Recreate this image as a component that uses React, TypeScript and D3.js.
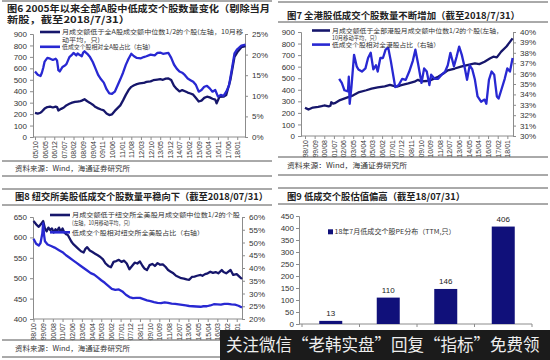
import React, { useEffect, useRef } from 'react';
import * as d3 from 'd3';

const DARK = '#16166b';
const BLUE = '#2828d2';
const BAR = '#10107a';
const CJK = '"Noto Sans CJK SC", "Liberation Sans", sans-serif';
const NUM = '"Liberation Sans", Arial, sans-serif';

type Pt = [string, number];

// ---- 图6: all A shares ----
const aTicks = ['05/10', '06/05', '06/12', '07/07', '08/02', '08/09', '09/04', '09/11', '10/06', '11/01', '11/08',
  '12/03', '12/10', '13/05', '13/12', '14/07', '15/02', '15/09', '16/04', '16/11', '17/06', '18/01'];
const aCount: Pt[] = [
  ['05/10', 211], ['05/12', 205], ['06/02', 212], ['06/03', 222], ['06/05', 248], ['06/07', 262], ['06/09', 266],
  ['06/11', 258], ['07/01', 266], ['07/02', 262], ['07/03', 232], ['07/05', 246], ['07/07', 258], ['07/09', 278],
  ['07/11', 290], ['08/01', 300], ['08/03', 306], ['08/05', 310], ['08/07', 314], ['08/08', 318], ['08/10', 330],
  ['08/12', 312], ['09/02', 298], ['09/04', 282], ['09/06', 262], ['09/08', 250], ['09/10', 240], ['09/12', 232],
  ['10/02', 206], ['10/04', 192], ['10/06', 198], ['10/08', 228], ['10/10', 252], ['10/12', 276], ['11/02', 320],
  ['11/04', 368], ['11/06', 410], ['11/08', 438], ['11/10', 452], ['11/12', 462], ['12/02', 468], ['12/05', 472],
  ['12/07', 482], ['12/10', 486], ['12/12', 496], ['13/03', 502], ['13/05', 506], ['13/07', 500], ['13/09', 510],
  ['13/11', 512], ['14/01', 498], ['14/03', 448], ['14/05', 420], ['14/07', 398], ['14/09', 410], ['14/11', 400],
  ['15/01', 388], ['15/03', 380], ['15/05', 370], ['15/07', 340], ['15/09', 310], ['15/11', 318], ['16/01', 342],
  ['16/03', 352], ['16/05', 346], ['16/07', 334], ['16/09', 326], ['16/10', 294], ['16/12', 350], ['17/03', 352],
  ['17/05', 367], ['17/08', 498], ['17/11', 700], ['18/01', 740], ['18/04', 785], ['18/07', 795],
];
const aRatio: Pt[] = [
  ['05/10', 15.9], ['05/12', 15.1], ['06/02', 14.8], ['06/03', 15.6], ['06/04', 16.8], ['06/05', 18.3], ['06/07', 19.2],
  ['06/09', 19.0], ['06/11', 18.7], ['07/01', 19.0], ['07/02', 18.6], ['07/03', 16.2], ['07/04', 15.9], ['07/06', 17.0],
  ['07/08', 17.4], ['07/09', 17.8], ['07/11', 19.4], ['08/01', 20.0], ['08/02', 20.4], ['08/04', 19.8], ['08/05', 20.3],
  ['08/06', 20.0], ['08/08', 19.6], ['08/09', 20.5], ['08/10', 20.8], ['08/12', 20.2], ['09/02', 19.4], ['09/04', 18.2],
  ['09/06', 16.6], ['09/08', 15.0], ['09/10', 14.0], ['09/12', 13.2], ['10/02', 11.6], ['10/04', 10.6], ['10/06', 10.5],
  ['10/08', 11.0], ['10/10', 12.5], ['10/12', 14.0], ['11/02', 15.6], ['11/04', 17.5], ['11/06', 19.0], ['11/08', 20.2],
  ['11/10', 19.6], ['11/12', 19.2], ['12/03', 19.1], ['12/05', 19.4], ['12/07', 19.6], ['12/10', 20.0], ['13/01', 19.8],
  ['13/03', 20.4], ['13/05', 20.5], ['13/07', 20.2], ['13/09', 20.3], ['13/11', 20.4], ['14/01', 19.2], ['14/03', 17.6],
  ['14/05', 16.6], ['14/07', 15.9], ['14/09', 15.6], ['14/11', 15.0], ['15/01', 14.2], ['15/03', 13.8], ['15/05', 13.4],
  ['15/07', 12.6], ['15/09', 11.0], ['15/11', 11.4], ['16/01', 12.2], ['16/03', 12.4], ['16/05', 11.8], ['16/07', 11.0],
  ['16/09', 11.4], ['16/11', 9.8], ['17/01', 10.2], ['17/03', 10.0], ['17/05', 11.0], ['17/07', 12.5], ['17/09', 16.3],
  ['17/11', 20.3], ['18/01', 21.3], ['18/04', 22.2], ['18/07', 22.4],
];

// ---- 图7: Hong Kong ----
const hkTicks = ['98/10', '99/09', '00/08', '01/07', '02/06', '03/05', '04/04', '05/03', '06/02', '07/01', '07/12',
  '08/11', '09/10', '10/09', '11/08', '12/07', '13/06', '14/05', '15/04', '16/03', '17/02', '18/01'];
const hkCount: Pt[] = [
  ['98/10', 245], ['99/02', 229], ['99/07', 246], ['00/01', 252], ['00/05', 258], ['00/08', 264], ['01/01', 256],
  ['01/03', 262], ['01/04', 292], ['01/06', 280], ['01/08', 284], ['02/02', 311], ['02/09', 330], ['03/05', 352],
  ['03/12', 380], ['04/08', 396], ['05/02', 410], ['05/09', 420], ['06/05', 430], ['06/11', 442], ['07/03', 434],
  ['07/07', 428], ['07/12', 440], ['08/08', 455], ['09/03', 470], ['09/07', 486], ['09/11', 472], ['10/05', 476],
  ['10/10', 486], ['11/06', 512], ['11/12', 540], ['12/05', 568], ['13/01', 584], ['13/08', 600], ['14/02', 612],
  ['14/08', 622], ['14/12', 628], ['15/05', 622], ['15/11', 642], ['16/05', 670], ['16/09', 686], ['17/01', 680],
  ['17/06', 730], ['17/12', 775], ['18/04', 815], ['18/07', 845],
];
const hkRatio: Pt[] = [
  ['02/01', 35.5], ['02/04', 35.1], ['02/07', 34.4], ['02/11', 34.3], ['02/12', 35.7], ['03/01', 33.1], ['03/03', 34.7],
  ['03/06', 37.8], ['03/09', 36.7], ['03/11', 36.4], ['04/03', 36.2], ['04/07', 36.5], ['04/10', 37.5], ['05/01', 38.0],
  ['05/04', 36.4], ['05/07', 36.8], ['05/09', 36.2], ['05/12', 37.5], ['06/03', 37.5], ['06/06', 38.3], ['06/09', 38.5],
  ['06/12', 37.2], ['07/03', 35.7], ['07/05', 34.7], ['07/09', 34.9], ['08/01', 35.5], ['08/05', 35.4], ['08/09', 36.2],
  ['09/01', 37.2], ['09/04', 38.3], ['09/07', 37.0], ['09/11', 35.1], ['10/02', 36.5], ['10/05', 36.2], ['10/08', 34.9],
  ['10/10', 35.9], ['11/02', 35.5], ['11/06', 35.5], ['11/10', 35.9], ['12/02', 36.2], ['12/05', 36.8], ['12/08', 38.0],
  ['12/12', 36.7], ['13/03', 37.6], ['13/06', 38.6], ['13/09', 37.8], ['13/12', 36.7], ['14/03', 35.4], ['14/06', 36.8],
  ['14/09', 36.4], ['14/12', 35.4], ['15/03', 33.8], ['15/07', 33.3], ['15/11', 33.5], ['16/01', 33.1], ['16/04', 35.4],
  ['16/07', 36.2], ['16/10', 35.9], ['17/01', 33.8], ['17/03', 33.6], ['17/06', 34.4], ['17/10', 35.5], ['18/01', 36.5],
  ['18/04', 36.2], ['18/07', 37.5],
];

// ---- 图8: NYSE ----
const nyTicks = hkTicks;
const nyCount: Pt[] = [
  ['98/10', 640], ['99/01', 632], ['99/04', 626], ['99/07', 634], ['99/09', 640], ['99/11', 622], ['00/01', 615],
  ['00/03', 624], ['00/05', 618], ['00/07', 622], ['00/09', 612], ['00/11', 620], ['01/01', 616], ['01/03', 624],
  ['01/05', 614], ['01/07', 622], ['01/09', 612], ['01/11', 608], ['02/01', 606], ['02/03', 598], ['02/05', 590],
  ['02/07', 584], ['02/10', 578], ['03/01', 572], ['03/04', 566], ['03/07', 563], ['03/09', 572], ['03/11', 576],
  ['04/02', 568], ['04/05', 564], ['04/08', 560], ['04/11', 556], ['05/02', 552], ['05/05', 546], ['05/08', 536],
  ['05/11', 530], ['06/02', 527], ['06/05', 540], ['06/08', 542], ['06/11', 545], ['07/02', 540], ['07/05', 543],
  ['07/08', 536], ['07/11', 522], ['08/02', 530], ['08/05', 538], ['08/08', 536], ['08/11', 541], ['09/02', 530],
  ['09/04', 524], ['09/07', 520], ['09/10', 532], ['10/01', 535], ['10/04', 530], ['10/07', 537], ['10/10', 533],
  ['11/01', 534], ['11/04', 528], ['11/07', 520], ['11/10', 516], ['12/01', 512], ['12/04', 506], ['12/07', 503],
  ['12/10', 500], ['13/01', 499], ['13/04', 497], ['13/07', 496], ['13/10', 503], ['14/01', 504], ['14/04', 506],
  ['14/08', 508], ['14/10', 506], ['15/01', 510], ['15/04', 512], ['15/07', 516], ['15/10', 513], ['16/01', 515],
  ['16/04', 512], ['16/08', 520], ['16/10', 515], ['17/01', 512], ['17/06', 520], ['17/09', 508], ['18/01', 510],
  ['18/04', 504], ['18/07', 498],
];
const nyRatio: Pt[] = [
  ['98/10', 51.5], ['99/01', 49.5], ['99/04', 48.8], ['99/06', 49.8], ['99/08', 53.5], ['99/09', 57.5], ['99/10', 53.0],
  ['99/11', 50.5], ['00/02', 49.2], ['00/06', 48.6], ['00/10', 48.0], ['01/03', 47.0], ['01/07', 46.2], ['01/11', 45.0],
  ['02/03', 44.0], ['02/07', 43.0], ['02/11', 42.0], ['03/03', 41.0], ['03/07', 40.0], ['03/11', 39.0], ['04/03', 38.0],
  ['04/07', 37.4], ['04/11', 36.3], ['05/03', 35.2], ['05/07', 34.2], ['05/11', 33.0], ['06/03', 31.8], ['06/07', 31.4],
  ['06/11', 31.6], ['07/03', 30.8], ['07/07', 29.5], ['07/11', 28.6], ['08/03', 28.2], ['08/07', 28.3], ['08/11', 28.3],
  ['09/03', 27.8], ['09/07', 27.3], ['09/11', 27.0], ['10/03', 26.6], ['10/07', 26.3], ['10/11', 26.2], ['11/03', 26.5],
  ['11/07', 26.3], ['11/11', 26.0], ['12/03', 25.9], ['12/07', 25.7], ['12/11', 25.5], ['13/03', 25.3], ['13/07', 25.1],
  ['13/11', 25.0], ['14/03', 24.9], ['14/08', 24.8], ['14/11', 25.0], ['15/03', 25.0], ['15/07', 25.3], ['15/11', 25.8],
  ['16/03', 25.7], ['16/07', 25.6], ['16/11', 25.9], ['17/03', 25.9], ['17/07', 25.7], ['17/11', 25.6], ['18/03', 25.2],
  ['18/07', 24.5],
];

// ---- 图9: PE distribution ----
const peCats = ['<0', '0-30', '30-100', '>100'];
const peCounts = [13, 110, 146, 406];

const toMonth = (s: string) => {
  const [y, m] = s.split('/').map(Number);
  return (y > 50 ? 1900 + y : 2000 + y) * 12 + m - 1;
};

const text = (g: any, x: number, y: number, str: string, size: number, opts: any = {}) => {
  const t = g.append('text')
    .attr('x', x).attr('y', y)
    .attr('font-family', opts.family || CJK)
    .attr('font-size', size)
    .attr('font-weight', opts.bold ? 700 : 400)
    .attr('fill', opts.fill || '#222')
    .text(str);
  if (opts.len) t.attr('textLength', opts.len).attr('lengthAdjust', 'spacingAndGlyphs');
  if (opts.anchor) t.attr('text-anchor', opts.anchor);
  return t;
};

const rule = (g: any, x1: number, x2: number, y: number) => {
  g.append('line').attr('x1', x1).attr('x2', x2).attr('y1', y).attr('y2', y)
    .attr('stroke', '#555').attr('stroke-width', 1);
};

const styleAxis = (ax: any) => {
  ax.attr('font-family', NUM).attr('font-size', 8);
  ax.selectAll('.domain').attr('stroke', '#8c8c8c');
  ax.selectAll('.tick line').attr('stroke', '#8c8c8c');
  ax.selectAll('.tick text').attr('fill', '#333');
};

const drawDual = (svg: any, c: any) => {
  const x = d3.scaleLinear().domain([toMonth(c.start), toMonth(c.end)]).range([c.x0, c.x1]);
  const yL = d3.scaleLinear().domain(c.leftDomain).range([c.bottom, c.top]);
  const yR = d3.scaleLinear().domain(c.rightDomain).range([c.bottom, c.top]);

  const gl = svg.append('g').attr('transform', `translate(${c.axisL},0)`)
    .call(d3.axisLeft(yL).tickValues(c.leftTicks).tickSize(3).tickPadding(3).tickFormat(d3.format('d')));
  styleAxis(gl);

  const gr = svg.append('g').attr('transform', `translate(${c.axisR},0)`)
    .call(d3.axisRight(yR).tickValues(c.rightTicks).tickSize(3).tickPadding(4).tickFormat((d: any) => `${d}%`));
  styleAxis(gr);

  const gx = svg.append('g').attr('transform', `translate(0,${c.bottom})`)
    .call(d3.axisBottom(x).tickValues(c.ticks.map(toMonth)).tickSize(3).tickFormat((_: any, i: number) => c.ticks[i]));
  styleAxis(gx);
  gx.select('.domain').remove();
  gx.selectAll('.tick text')
    .attr('transform', 'rotate(-90)')
    .attr('text-anchor', 'end')
    .attr('x', -4).attr('y', 0).attr('dy', '0.35em')
    .attr('font-size', 7);
  svg.append('line').attr('x1', c.axisL).attr('x2', c.axisR).attr('y1', c.bottom).attr('y2', c.bottom)
    .attr('stroke', '#8c8c8c');

  const lineL = d3.line<Pt>().x(d => x(toMonth(d[0]))).y(d => yL(d[1]));
  const lineR = d3.line<Pt>().x(d => x(toMonth(d[0]))).y(d => yR(d[1]));
  svg.append('path').attr('d', lineL(c.count)).attr('fill', 'none')
    .attr('stroke', DARK).attr('stroke-width', 2.3).attr('stroke-linejoin', 'round');
  svg.append('path').attr('d', lineR(c.ratio)).attr('fill', 'none')
    .attr('stroke', BLUE).attr('stroke-width', 2.3).attr('stroke-linejoin', 'round');

  // legend
  const lg = c.legend;
  svg.append('line').attr('x1', lg.x).attr('x2', lg.x + lg.w).attr('y1', lg.y1).attr('y2', lg.y1)
    .attr('stroke', DARK).attr('stroke-width', 2.6);
  svg.append('line').attr('x1', lg.x).attr('x2', lg.x + lg.w).attr('y1', lg.y2).attr('y2', lg.y2)
    .attr('stroke', BLUE).attr('stroke-width', 2.6);
  lg.lines.forEach((l: any) => text(svg, lg.x + lg.w + 2, l.y + 2.2, l.s, 6.1, { len: l.len, fill: '#333' }));
};

const App = () => {
  const ref = useRef<SVGSVGElement>(null);

  useEffect(() => {
    const svg = d3.select(ref.current);
    svg.selectAll('*').remove();
    svg.append('rect').attr('width', 550).attr('height', 360).attr('fill', '#fff');

    // ----- 图6 -----
    rule(svg, 2, 272, 1);
    text(svg, 7, 12, '图6  2005年以来全部A股中低成交个股数量变化（剔除当月', 9.5, { bold: true, len: 263 });
    text(svg, 7, 23, '新股，截至2018/7/31）', 9.5, { bold: true, len: 123 });
    drawDual(svg, {
      start: '05/10', end: '18/07', x0: 35, x1: 245.5, axisL: 33, axisR: 245, top: 34, bottom: 137,
      leftDomain: [0, 900], leftTicks: d3.range(0, 901, 100), rightDomain: [0, 25], rightTicks: d3.range(0, 26, 5),
      ticks: aTicks, count: aCount, ratio: aRatio,
      legend: {
        x: 40, w: 20, y1: 32, y2: 46.8, lines: [
          { s: '月成交额低于全A股成交额中位数1/2的个股(左轴，10月移', y: 32, len: 181 },
          { s: '动平均，只)', y: 39.4, len: 38 },
          { s: '低成交个股相对全A股占比（右轴）', y: 46.8, len: 92 },
        ],
      },
    });
    rule(svg, 2, 272, 161);
    text(svg, 15, 171, '资料来源：Wind，海通证券研究所', 7, { len: 115, fill: '#333' });
    rule(svg, 2, 272, 176);

    // ----- 图7 -----
    rule(svg, 278, 548, 2);
    text(svg, 287, 18.5, '图7  全港股低成交个股数量不断增加（截至2018/7/31）', 9.5, { bold: true, len: 233 });
    rule(svg, 278, 548, 22);
    drawDual(svg, {
      start: '98/10', end: '18/07', x0: 305, x1: 512.6, axisL: 301, axisR: 513, top: 32, bottom: 136,
      leftDomain: [0, 900], leftTicks: d3.range(0, 901, 100), rightDomain: [30, 40], rightTicks: d3.range(30, 41, 1),
      ticks: hkTicks, count: hkCount, ratio: hkRatio,
      legend: {
        x: 312, w: 18, y1: 30.5, y2: 44.6, lines: [
          { s: '月成交额低于全部港股月成交额中位数1/2的个股(左轴，', y: 30.5, len: 171 },
          { s: '10月移动平均，只）', y: 37.6, len: 48 },
          { s: '低成交个股相对全港股占比（右轴）', y: 44.6, len: 108 },
        ],
      },
    });
    rule(svg, 278, 548, 157);
    text(svg, 287, 168, '资料来源：Wind，海通证券研究所', 7, { len: 120, fill: '#333' });
    rule(svg, 278, 548, 175);

    // ----- 图8 -----
    rule(svg, 2, 272, 189);
    text(svg, 15, 200, '图8  纽交所美股低成交个股数量平稳向下（截至2018/07/31）', 9.5, { bold: true, len: 253 });
    rule(svg, 2, 272, 205);
    drawDual(svg, {
      start: '98/10', end: '18/07', x0: 33.5, x1: 242, axisL: 33, axisR: 242, top: 217, bottom: 319,
      leftDomain: [400, 650], leftTicks: d3.range(400, 651, 50), rightDomain: [20, 60], rightTicks: d3.range(20, 61, 5),
      ticks: nyTicks, count: nyCount, ratio: nyRatio,
      legend: {
        x: 50, w: 20, y1: 215, y2: 232.3, lines: [
          { s: '月成交额低于纽交所全美股月成交额中位数1/2的个股', y: 215, len: 168 },
          { s: '(左轴，10月移动平均，只)', y: 223, len: 58 },
          { s: '低成交个股相对纽交所全美股占比（右轴）', y: 232.3, len: 132 },
        ],
      },
    });
    rule(svg, 2, 272, 340);
    text(svg, 15, 351, '资料来源：Wind，海通证券研究所', 7, { len: 115, fill: '#333' });
    rule(svg, 2, 272, 357);

    // ----- 图9 -----
    rule(svg, 278, 548, 188);
    text(svg, 287, 200, '图9  低成交个股估值偏高（截至18/07/31）', 9.5, { bold: true, len: 178 });
    rule(svg, 278, 548, 204);

    const xb = d3.scaleBand().domain(peCats).range([302, 532]).paddingInner(0.6).paddingOuter(0.3);
    const yb = d3.scaleLinear().domain([0, 450]).range([324, 216]);
    const gy = svg.append('g').attr('transform', 'translate(299,0)')
      .call(d3.axisLeft(yb).tickValues(d3.range(0, 451, 50)).tickSize(3).tickPadding(2));
    styleAxis(gy);
    svg.append('line').attr('x1', 299).attr('x2', 532).attr('y1', 324).attr('y2', 324).attr('stroke', '#8c8c8c');
    const step = xb.step();
    d3.range(peCats.length + 1).forEach(i => {
      const bx = 302 + i * step;
      svg.append('line').attr('x1', bx).attr('x2', bx).attr('y1', 324).attr('y2', 327).attr('stroke', '#8c8c8c');
    });
    svg.append('g').selectAll('rect').data(peCounts).enter().append('rect')
      .attr('x', (_, i) => xb(peCats[i]) as number)
      .attr('y', d => yb(d))
      .attr('width', xb.bandwidth())
      .attr('height', d => 324 - yb(d))
      .attr('fill', BAR);
    svg.append('g').selectAll('text').data(peCounts).enter().append('text')
      .attr('x', (_, i) => (xb(peCats[i]) as number) + xb.bandwidth() / 2)
      .attr('y', d => yb(d) - 5)
      .attr('text-anchor', 'middle')
      .attr('font-family', NUM).attr('font-size', 8).attr('fill', '#222')
      .text(d => d);
    svg.append('rect').attr('x', 328).attr('y', 229.3).attr('width', 5).attr('height', 5).attr('fill', BAR);
    text(svg, 334.5, 234.2, '18年7月低成交个股PE分布（TTM,只）', 6.5, { len: 121, fill: '#333' });

    // ----- watermark banner -----
    svg.append('rect').attr('x', 220).attr('y', 330).attr('width', 330).attr('height', 30).attr('fill', '#1b1b1b');
    text(svg, 226, 350.5, '关注微信“老韩实盘”回复“指标”免费领', 16.5, { fill: '#eeeeee' });
  }, []);

  return <svg ref={ref} width={550} height={360} style={{ position: 'absolute', left: 0, top: 0 }} />;
};

export default App;
